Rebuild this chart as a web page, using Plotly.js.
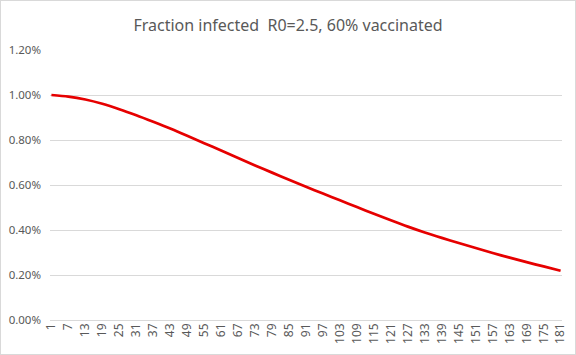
<!DOCTYPE html>
<html>
<head>
<meta charset="utf-8">
<script src="https://cdn.plot.ly/plotly-3.0.1.min.js"></script>
<style>
  html, body { margin: 0; padding: 0; background: #fff; }
  #chart { width: 574px; height: 353px; border: 1px solid #d9d9d9; }
</style>
</head>
<body>
<div id="chart"></div>
<script>
// Day number (category) at which values were read
const days = [1, 7, 13, 19, 25, 31, 37, 43, 49, 55, 61, 67, 73, 79, 85, 91,
              97, 103, 109, 115, 121, 127, 133, 139, 145, 151, 157, 163, 169, 175, 181];
// Fraction infected (as fraction, 0.01 = 1.00%)
const fractionInfected = [0.01000, 0.00993, 0.00980, 0.00961, 0.00937, 0.00910, 0.00881, 0.00851,
                          0.00819, 0.00786, 0.00753, 0.00720, 0.00687, 0.00655, 0.00623, 0.00592,
                          0.00562, 0.00532, 0.00502, 0.00472, 0.00443, 0.00415, 0.00389, 0.00365,
                          0.00342, 0.00320, 0.00298, 0.00277, 0.00257, 0.00238, 0.00219];
// X tick labels
const xTickVals = [];
for (let d = 1; d <= 181; d += 6) xTickVals.push(d);
const xTickText = xTickVals.map(String);

const titleText = "Fraction infected&nbsp;&nbsp;R0=2.5, 60% vaccinated";

const trace = {
  x: days,
  y: fractionInfected,
  type: 'scatter',
  mode: 'lines',
  line: { color: '#e60000', width: 2.75, shape: 'spline', smoothing: 0.8 },
  hoverinfo: 'skip'
};

const layout = {
  width: 574,
  height: 353,
  margin: { l: 49, r: 13, t: 49, b: 34 },
  paper_bgcolor: '#ffffff',
  plot_bgcolor: '#ffffff',
  showlegend: false,
  font: { family: 'Noto Sans, sans-serif', color: '#595959', size: 11 },
  title: {
    text: titleText,
    font: { family: 'Noto Sans, sans-serif', size: 16, color: '#595959' },
    x: 0.5, xanchor: 'center',
    y: 1 - 24 / 353, yanchor: 'middle', yref: 'container'
  },
  xaxis: {
    range: [0.5, 181.5],
    tickmode: 'array',
    tickvals: xTickVals,
    ticktext: xTickText,
    tickangle: -90,
    showgrid: false,
    zeroline: false,
    showline: false,
    ticks: '',
    ticklen: 0,
    tickfont: { size: 12, color: '#595959' },
    fixedrange: true
  },
  yaxis: {
    range: [0, 0.012],
    dtick: 0.002,
    tick0: 0,
    tickformat: '.2%',
    showgrid: true,
    gridcolor: '#d9d9d9',
    gridwidth: 1,
    zeroline: true,
    zerolinecolor: '#d9d9d9',
    zerolinewidth: 1,
    showline: false,
    ticks: '',
    ticklabelstandoff: 8,
    tickfont: { size: 11.5, color: '#595959' },
    fixedrange: true
  }
};

Plotly.newPlot('chart', [trace], layout, { displayModeBar: false, staticPlot: true });
</script>
</body>
</html>
